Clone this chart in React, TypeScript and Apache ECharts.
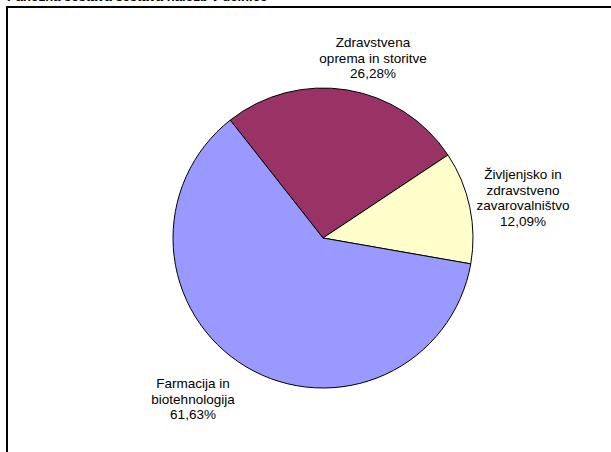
import React, { useEffect, useRef } from "react";
import * as echarts from "echarts";

const titleText = "Panožna sestava sestava naložb v delnice";
const categories = [
  "Zdravstvena\noprema in storitve",
  "Življenjsko in\nzdravstveno\nzavarovalništvo",
  "Farmacija in\nbiotehnologija",
];
const values = [26.28, 12.09, 61.63];
const valueLabels = ["26,28%", "12,09%", "61,63%"];
const colors = ["#993366", "#FFFFCC", "#9999FF"];
const labelPositions = [
  [373, 58],
  [523, 198],
  [193, 399],
];

export default function App() {
  const ref = useRef<HTMLDivElement>(null);
  useEffect(() => {
    if (!ref.current) return;
    const chart = echarts.init(ref.current, null, { renderer: "svg" });
    chart.setOption({
      animation: false,
      backgroundColor: "#ffffff",
      graphic: [
        {
          type: "rect",
          shape: { x: 7, y: 7, width: 800, height: 700 },
          style: { fill: "none", stroke: "#000", lineWidth: 2 },
          z: 0,
        },
        {
          type: "text",
          x: 7,
          y: 3,
          style: {
            text: titleText,
            fill: "#000",
            font: "bold 13px Arial, 'Liberation Sans', sans-serif",
            textVerticalAlign: "bottom",
          },
          z: 10,
        },
      ],
      series: [
        {
          type: "pie",
          center: [323, 238],
          radius: 150,
          startAngle: 128.2,
          clockwise: true,
          data: categories.map((c, i) => ({
            name: c,
            value: values[i],
            itemStyle: { color: colors[i] },
          })),
          itemStyle: { borderColor: "#000", borderWidth: 1 },
          label: {
            show: true,
            position: "outside",
            alignTo: "none",
            overflow: "none",
            bleedMargin: 0,
            formatter: (p: any) => `${p.name}\n${valueLabels[p.dataIndex]}`,
            fontFamily: "Arial, 'Liberation Sans', sans-serif",
            fontSize: 13.5,
            lineHeight: 15.5,
            color: "#000",
            align: "center",
          },
          labelLine: { show: false },
          labelLayout: (params: any) => ({
            x: labelPositions[params.dataIndex][0],
            y: labelPositions[params.dataIndex][1],
            align: "center",
            verticalAlign: "middle",
          }),
          emphasis: { disabled: true },
          silent: true,
        },
      ],
    });
    return () => chart.dispose();
  }, []);
  return (
    <div
      ref={ref}
      style={{ position: "fixed", left: 0, top: 0, width: 611, height: 452 }}
    />
  );
}
